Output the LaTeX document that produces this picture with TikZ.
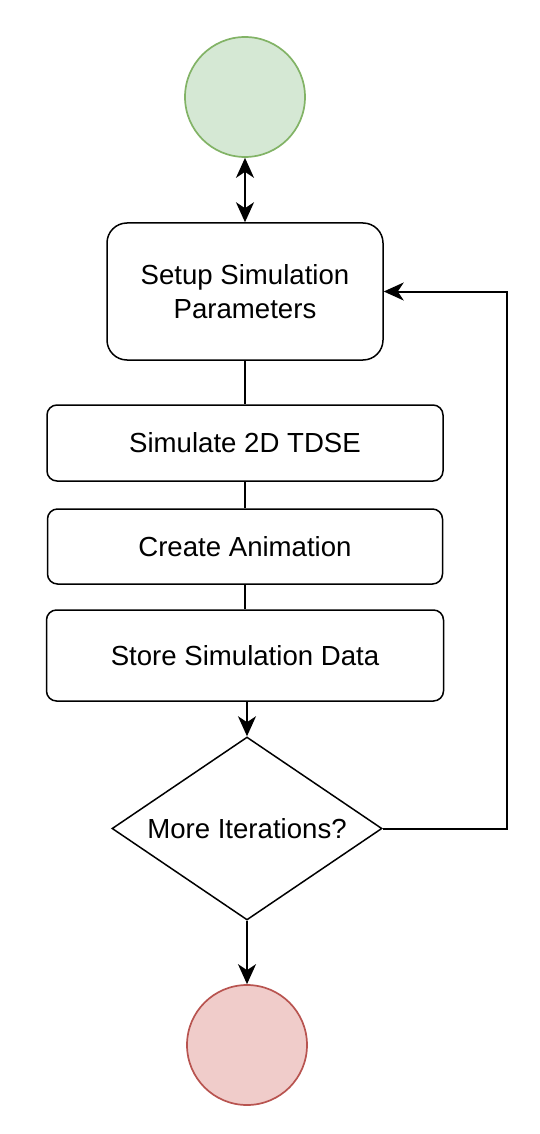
\documentclass[tikz,border=0pt]{standalone}
\usepackage{fontspec}
\setmainfont{Liberation Sans}
\usetikzlibrary{arrows.meta,shapes.geometric}
\definecolor{startfill}{HTML}{D5E8D4}
\definecolor{startline}{HTML}{82B366}
\definecolor{stopfill}{HTML}{F0CCCA}
\definecolor{stopline}{HTML}{B85450}

\begin{document}
\begin{tikzpicture}[x=0.5pt,y=-0.5pt,
  term/.style={circle,draw,line width=0.85pt,minimum size=60pt,inner sep=0pt},
  proc/.style={draw,line width=0.75pt,rounded corners=5pt,align=center,font=\fontsize{13.8}{16.8}\selectfont},
  decide/.style={diamond,draw,line width=0.75pt,minimum width=135pt,minimum height=91.5pt,inner sep=0pt,aspect=1.47,font=\fontsize{13.8}{16.8}\selectfont},
  arr/.style={-{Stealth[length=10pt,width=9pt,inset=3pt]},line width=1pt},
  lnk/.style={line width=1pt}
]
\useasboundingbox (0,0) rectangle (540,1134);
\node[term,fill=startfill,draw=startline] (start) at (245,97) {};
\node[proc,rounded corners=10pt,minimum width=138pt,minimum height=68.5pt] (setup) at (245,291.5) {Setup Simulation\\Parameters};
\node[proc,minimum width=198pt,minimum height=38pt] (sim) at (245,443) {Simulate 2D TDSE};
\node[proc,minimum width=197.5pt,minimum height=37.5pt] (anim) at (245,546.5) {Create Animation};
\node[proc,minimum width=198.5pt,minimum height=45.5pt] (store) at (245,655.5) {Store Simulation Data};
\node[decide] (more) at (247,828.5) {More Iterations?};
\node[term,fill=stopfill,draw=stopline] (stop) at (247,1045) {};
\coordinate (back) at (507,828.5);

\draw[{Stealth[length=10pt,width=9pt,inset=3pt]}-{Stealth[length=10pt,width=9pt,inset=3pt]},line width=1pt] (start) -- (setup);
\draw[lnk] (setup) -- (sim);
\draw[lnk] (sim) -- (anim);
\draw[lnk] (anim) -- (store);
\draw[arr] (store.south -| more) -- (more);
\draw[arr] (more) -- (stop);
\draw[arr] (more.east) -- (back) |- (setup);
\end{tikzpicture}
\end{document}
